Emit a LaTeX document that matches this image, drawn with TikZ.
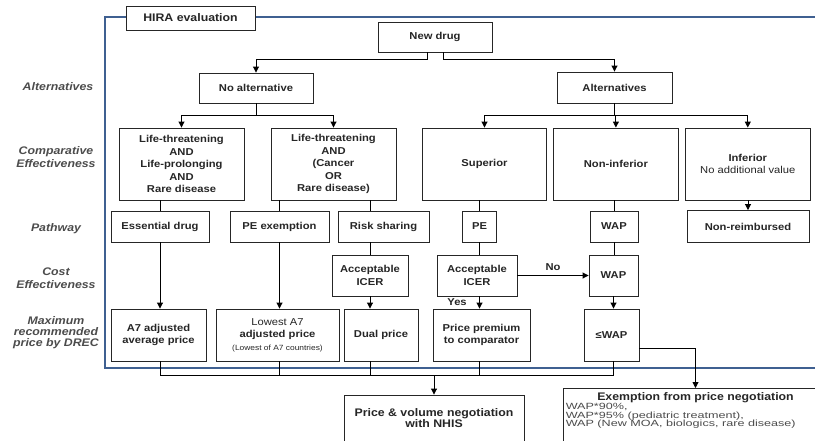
\documentclass[tikz,border=0pt]{standalone}
\usepackage{fontspec}
\setmainfont{Liberation Sans}[FakeStretch=1.12]
\newfontfamily\widefont{Liberation Sans}[FakeStretch=1.4]
\usetikzlibrary{positioning,calc,arrows.meta}
\definecolor{hirablue}{RGB}{63,96,145}

\begin{document}
\begin{tikzpicture}[x=1pt, y=-1pt,
    box/.style={draw=black!85, line width=0.9pt, fill=white, align=center, inner sep=1pt,
      text=black!85, font=\fontsize{10}{12.5}\selectfont\bfseries},
    cebox/.style={box, minimum width=125pt, minimum height=72pt},
    rowlabel/.style={align=center, text=black!70, font=\fontsize{11}{12.5}\selectfont\bfseries\itshape},
    link/.style={draw=black, line width=0.9pt},
    arr/.style={link, -{Triangle[length=6pt, width=6pt]}},
    tag/.style={font=\fontsize{10}{12}\selectfont\bfseries, text=black!85}]

  \path[use as bounding box, clip] (0,0) rectangle (815,440);
  \draw[hirablue, line width=2.2pt] (830,17) -- (105,17) -- (105,368) -- (830,368);

  \node[box, minimum width=129pt, minimum height=24pt, font=\fontsize{11}{13}\selectfont\bfseries] (hira) at (190.5,18) {HIRA evaluation};
  \node[box, minimum width=114pt, minimum height=30pt] (newdrug) at (435,37) {New drug};
  \node[box, minimum width=114pt, minimum height=30pt] (noalt) at (256,88) {No alternative};
  \node[box, minimum width=115pt, minimum height=31pt] (alts) at (614.5,87.5) {Alternatives};

  \node[cebox] (lt1) at (181.5,164) {Life-threatening\\AND\\Life-prolonging\\AND\\Rare disease};
  \node[cebox] (lt2) at (333.5,164) {Life-threatening\\AND\\(Cancer\\OR\\Rare disease)};
  \node[cebox, minimum width=124pt] (sup) at (484.5,164) {Superior};
  \node[cebox, right=6pt of sup] (noninf) {Non-inferior};
  \node[cebox, right=6pt of noninf] (inf) {Inferior\\{\mdseries No additional value}};

  \node[box, minimum width=98pt, minimum height=31pt] (ess) at (160,226.5) {Essential drug};
  \node[box, minimum width=99pt, minimum height=31pt] (peex) at (279.5,226.5) {PE exemption};
  \node[box, minimum width=91pt, minimum height=31pt] (risk) at (383.5,226.5) {Risk sharing};
  \node[box, minimum width=34pt, minimum height=31pt] (pe) at (479.5,226.5) {PE};
  \node[box, minimum width=48pt, minimum height=31pt] (wap1) at (614,226.5) {WAP};
  \node[box, minimum width=122pt, minimum height=32pt] (nonreimb) at (748,226.5) {Non-reimbursed};

  \node[box, minimum width=76pt, minimum height=41pt] (icer1) at (370,275.5) {Acceptable\\ICER};
  \node[box, minimum width=80pt, minimum height=41pt] (icer2) at (477,275.5) {Acceptable\\ICER};
  \node[box, minimum width=49pt, minimum height=41pt] (wap2) at (613.5,275.5) {WAP};

  \node[box, minimum width=95pt, minimum height=52pt] (a7avg) at (158.5,335) {A7 adjusted\\average price};
  \node[box, minimum width=123pt, minimum height=52pt] (lowest) at (277.5,335) {{\mdseries Lowest A7}\\adjusted price\\{\mdseries\fontsize{7.5}{9}\selectfont (Lowest of A7 countries)}};
  \node[box, minimum width=74pt, minimum height=52pt] (dual) at (381,335) {Dual price};
  \node[box, minimum width=97pt, minimum height=52pt] (premium) at (481.5,335) {Price premium\\to comparator};
  \node[box, minimum width=55pt, minimum height=52pt] (lewap) at (611.5,335) {≤WAP};

  \node[box, minimum width=180pt, minimum height=46pt, font=\fontsize{11}{11.5}\selectfont\bfseries] (pv) at (434,418) {Price \& volume negotiation\\with NHIS};
  \node[box, minimum width=265pt, minimum height=58pt, anchor=north] (exempt) at (695.5,388) {};
  \node[tag, font=\fontsize{11}{12}\selectfont\bfseries] (extitle) at ($(exempt.north)+(0,10)$) {Exemption from price negotiation};
  \node[anchor=north west, align=left, inner sep=0pt, text=black!70,
    font=\widefont\fontsize{9}{8.7}\selectfont] (exlist) at ($(exempt.north west)+(3,15)$)
    {WAP*90\%,\\WAP*95\% (pediatric treatment),\\WAP (New MOA, biologics, rare disease)};

  \node[rowlabel] (lalt) at (58,87) {Alternatives};
  \node[rowlabel] (lce) at (56,157) {Comparative\\Effectiveness};
  \node[rowlabel] (lpath) at (56,229) {Pathway};
  \node[rowlabel] (lcost) at (56,278) {Cost\\Effectiveness};
  \node[rowlabel, font=\fontsize{11}{11}\selectfont\bfseries\itshape] (lmax) at (56,333) {Maximum\\recommended\\price by DREC};

  \draw[arr] ([xshift=-8pt]newdrug.south) -- ++(0,7) -| (noalt.north);
  \draw[arr] ([xshift=8pt]newdrug.south) -- ++(0,7) -| (alts.north);

  \draw[link] (noalt.south) -- ++(0,12) coordinate (noaltj);
  \foreach \t in {lt1,lt2} \draw[arr] (noaltj) -| (\t.north);
  \draw[link] (alts.south) -- ++(0,12) coordinate (altsj);
  \foreach \t in {sup,noninf,inf} \draw[arr] (altsj) -| (\t.north);

  \draw[link] (lt1.south -| ess) -- (ess.north);
  \draw[link] (lt2.south -| peex) -- (peex.north);
  \draw[link] (lt2.south -| icer1) -- (risk.north -| icer1);
  \draw[link] (sup.south -| pe) -- (pe.north);
  \draw[link] (noninf.south -| wap1) -- (wap1.north);
  \draw[arr] (inf.south -| nonreimb) -- (nonreimb.north);

  \draw[link] (risk.south -| icer1) -- (icer1.north);
  \draw[link] (pe.south) -- (pe.south |- icer2.north);
  \draw[link] (wap1.south) -- (wap1.south |- wap2.north);
  \draw[arr] (icer2.east) -- node[tag, above=1pt] {No} (wap2.west);

  \draw[arr] (ess.south) -- (ess.south |- a7avg.north);
  \draw[arr] (peex.south) -- (peex.south |- lowest.north);
  \draw[arr] (icer1.south) -- (icer1.south |- dual.north);
  \draw[arr] (icer2.south -| pe) -- node[tag, left=9pt] {Yes} (pe |- premium.north);
  \draw[arr] (wap2.south) -- (wap2.south |- lewap.north);

  \coordinate (bus) at (0,375);
  \foreach \b/\x in {a7avg/ess, lowest/peex, dual/icer1, premium/pe, lewap/wap2}
    \draw[link] (\b.south -| \x) -- (bus -| \x);
  \draw[link] (bus -| ess) -- (bus -| wap2);
  \draw[arr] (bus -| pv) -- (pv.north);
  \draw[arr] ([yshift=-13pt]lewap.east) -| (exempt.north);
\end{tikzpicture}
\end{document}
